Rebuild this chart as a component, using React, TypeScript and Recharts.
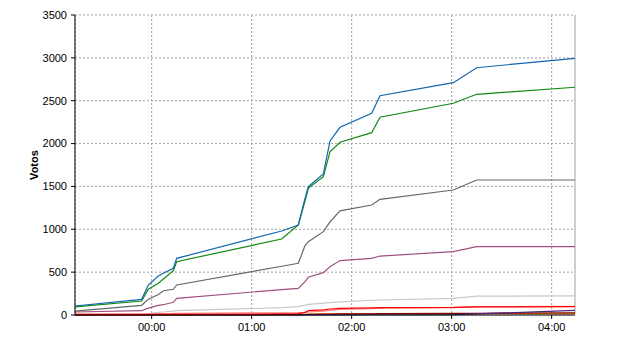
import { CartesianGrid, Line, LineChart, ReferenceLine, XAxis, YAxis } from "recharts"

// minutes from 00:00 of each count update
const minutos = [-46, -6, -2, 4, 7, 13, 15, 78, 88, 92, 94, 103, 107, 113, 132, 137, 181, 195, 254]

const azul = [105, 183, 350, 455, 486, 545, 661, 980, 1050, 1361, 1497, 1645, 2030, 2190, 2353, 2558, 2710, 2885, 2995]
const verde = [95, 163, 300, 370, 420, 517, 622, 887, 1050, 1330, 1478, 1614, 1905, 2015, 2127, 2307, 2470, 2575, 2657]
const gris = [45, 113, 185, 240, 283, 300, 350, 569, 603, 809, 855, 972, 1086, 1215, 1283, 1350, 1458, 1575, 1575]
const malva = [35, 50, 80, 112, 120, 148, 195, 296, 311, 389, 440, 494, 562, 635, 661, 688, 739, 797, 797]
const plata = [5, 10, 15, 30, 35, 45, 50, 85, 97, 115, 125, 138, 145, 152, 172, 175, 195, 220, 222]
const rojo = [3, 5, 6, 7, 7, 8, 8, 12, 15, 30, 50, 60, 70, 78, 82, 85, 88, 95, 97]
const rosa = [12, 14, 15, 16, 17, 18, 20, 25, 27, 30, 35, 45, 55, 65, 75, 80, 85, 98, 100]
const naranja = [0, 0, 0, 0, 0, 0, 0, 1, 2, 6, 10, 12, 12, 12, 13, 13, 14, 15, 15]
const granate = [0, 0, 0, 0, 0, 1, 1, 3, 5, 7, 8, 10, 11, 12, 14, 15, 18, 20, 25]
const morado = [0, 0, 0, 0, 0, 0, 0, 0, 1, 1, 1, 2, 2, 2, 3, 3, 5, 12, 55]

const xTicks = [0, 60, 120, 180, 240]
const yTicks = [0, 500, 1000, 1500, 2000, 2500, 3000, 3500]

const series = [
  { key: "plata", values: plata, color: "#c8c8c8" },
  { key: "rosa", values: rosa, color: "#ff8080" },
  { key: "naranja", values: naranja, color: "#ff9900" },
  { key: "granate", values: granate, color: "#800000" },
  { key: "morado", values: morado, color: "#4b2882" },
  { key: "rojo", values: rojo, color: "#ff0000" },
  { key: "malva", values: malva, color: "#a0507f" },
  { key: "gris", values: gris, color: "#666666" },
  { key: "verde", values: verde, color: "#118811" },
  { key: "azul", values: azul, color: "#1166b0" },
]

const data = minutos.map((m, i) => {
  const row: Record<string, number> = { t: m }
  series.forEach((s) => (row[s.key] = s.values[i]))
  return row
})

const fmtHora = (m: number) => {
  const h = Math.floor(m / 60)
  const mm = m % 60
  return `${String(h).padStart(2, "0")}:${String(mm).padStart(2, "0")}`
}

const font = { fontFamily: "Liberation Sans, Arial, sans-serif", fontSize: 11, fill: "#000" }

export default function App() {
  return (
    <div style={{ position: "absolute", left: 0, top: 0, background: "#fff" }}>
      <LineChart width={640} height={350} data={data} margin={{ top: 15, right: 65, left: 30, bottom: 0 }}>
        <CartesianGrid stroke="#a0a0a0" strokeDasharray="2 2" />
        <XAxis
          dataKey="t"
          type="number"
          domain={[-46, 254]}
          ticks={xTicks}
          tickFormatter={fmtHora}
          height={35}
          stroke="#000"
          tickSize={4}
          tickMargin={4}
          tick={font}
        />
        <YAxis
          domain={[0, 3500]}
          ticks={yTicks}
          width={45}
          stroke="#000"
          tickSize={4}
          tickMargin={4}
          tick={font}
          label={{
            content: () => (
              <text
                x={34}
                y={165}
                transform="rotate(-90 34 165)"
                textAnchor="middle"
                dominantBaseline="central"
                style={{ fontFamily: "Liberation Sans, Arial, sans-serif", fontSize: 11, fontWeight: "bold" }}
              >
                Votos
              </text>
            ),
          }}
        />
        <ReferenceLine x={254} stroke="#a0a0a0" strokeDasharray="2 2" />
        {series.map((s) => (
          <Line
            key={s.key}
            dataKey={s.key}
            stroke={s.color}
            strokeWidth={1.2}
            dot={false}
            type="linear"
            isAnimationActive={false}
          />
        ))}
      </LineChart>
    </div>
  )
}
